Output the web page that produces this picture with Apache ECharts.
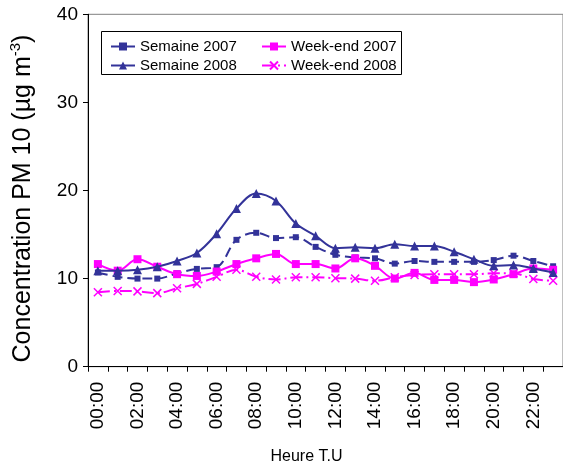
<!DOCTYPE html>
<html>
<head>
<meta charset="utf-8">
<script src="https://cdn.jsdelivr.net/npm/echarts@6/dist/echarts.min.js"></script>
<style>
  html, body { margin: 0; padding: 0; background: #fff; }
  #chart { width: 563px; height: 472px; }
</style>
</head>
<body>
<div id="chart"></div>
<script>
// Hourly PM10 concentration profiles (UTC), weekdays vs weekends
const hours = ['00:00','01:00','02:00','03:00','04:00','05:00','06:00','07:00','08:00','09:00','10:00','11:00',
               '12:00','13:00','14:00','15:00','16:00','17:00','18:00','19:00','20:00','21:00','22:00','23:00'];

const semaine2007 = [10.7, 10.2, 10.0, 10.0, 10.6, 11.1, 11.3, 14.4, 15.2, 14.6, 14.7, 13.6,
                     12.7, 12.4, 12.3, 11.7, 12.0, 11.9, 11.9, 11.9, 12.1, 12.6, 12.0, 11.4];
const semaine2008 = [10.9, 10.9, 11.0, 11.35, 12.0, 12.9, 15.1, 17.95, 19.65, 18.8, 16.25, 14.85,
                     13.45, 13.55, 13.45, 13.9, 13.7, 13.7, 13.05, 12.2, 11.45, 11.55, 11.15, 10.7];
const weekend2007 = [11.65, 10.9, 12.2, 11.35, 10.5, 10.3, 10.8, 11.65, 12.3, 12.8, 11.65, 11.65,
                     11.15, 12.3, 11.45, 10.0, 10.65, 9.85, 9.85, 9.6, 9.9, 10.5, 11.15, 11.0];
const weekend2008 = [8.45, 8.6, 8.55, 8.35, 8.9, 9.4, 10.2, 11.0, 10.2, 9.9, 10.15, 10.15,
                     10.05, 10.0, 9.75, 10.15, 10.4, 10.5, 10.5, 10.5, 10.6, 10.6, 9.95, 9.75];

const yTicks = { min: 0, max: 40, interval: 10 };

const NAVY = '#333399';
const MAGENTA = '#FF00FF';
const FONT = 'Liberation Sans, Arial, sans-serif';
const crossSymbol = 'path://M0,0L10,10M10,0L0,10';

const chart = echarts.init(document.getElementById('chart'), null, { renderer: 'canvas' });

const legendText = { fontFamily: FONT, fontSize: 15, color: '#000' };

chart.setOption({
  animation: false,
  backgroundColor: '#fff',
  grid: {
    left: 86.7, top: 14.3, width: 482.6, height: 352.4,
    show: true, borderColor: '#808080', borderWidth: 1, backgroundColor: 'transparent'
  },
  graphic: [{
    type: 'rect',
    shape: { x: 101.5, y: 31.5, width: 300, height: 43 },
    style: { fill: '#fff', stroke: '#000', lineWidth: 1 },
    z: 0
  }],
  legend: [{
    orient: 'vertical',
    left: 105, top: 34,
    itemWidth: 24, itemHeight: 10, itemGap: 4,
    textStyle: legendText,
    data: ['Semaine 2007', 'Semaine 2008'],
    z: 5
  }, {
    orient: 'vertical',
    left: 256, top: 34,
    itemWidth: 24, itemHeight: 10, itemGap: 4,
    textStyle: legendText,
    data: ['Week-end 2007', 'Week-end 2008'],
    z: 5
  }],
  xAxis: {
    type: 'category',
    data: hours,
    boundaryGap: true,
    name: 'Heure T.U',
    nameLocation: 'middle',
    nameGap: 82,
    nameTextStyle: { fontFamily: FONT, fontSize: 16, color: '#000', padding: [0, 38, 0, 0] },
    axisLine: { lineStyle: { color: '#000', width: 1 } },
    axisTick: { show: true, length: 5, interval: 0, lineStyle: { color: '#000' } },
    axisLabel: {
      interval: 1, rotate: 90, margin: 15,
      fontFamily: FONT, fontSize: 19, color: '#000'
    },
    splitLine: { show: false }
  },
  yAxis: {
    type: 'value',
    min: yTicks.min, max: yTicks.max, interval: yTicks.interval,
    name: '{t|Concentration PM 10 (µg m}{s|-3}{t|)}',
    nameLocation: 'middle',
    nameGap: 49,
    nameRotate: 90,
    nameTextStyle: {
      fontFamily: FONT, color: '#000',
      padding: [0, 16, 0, 0],
      rich: {
        t: { fontFamily: FONT, fontSize: 25, color: '#000' },
        s: { fontFamily: FONT, fontSize: 15, color: '#000', padding: [0, 0, 16, 0] }
      }
    },
    axisLine: { show: true, lineStyle: { color: '#000', width: 1 } },
    axisTick: { show: true, length: 5, lineStyle: { color: '#000' } },
    axisLabel: { margin: 10, fontFamily: FONT, fontSize: 19, color: '#000' },
    splitLine: { show: false }
  },
  series: [{
    name: 'Semaine 2007',
    type: 'line',
    data: semaine2007,
    smooth: 0.35,
    symbol: 'rect',
    symbolSize: 6,
    itemStyle: { color: NAVY },
    lineStyle: { color: NAVY, width: 2, type: [10, 5] },
    z: 3
  }, {
    name: 'Semaine 2008',
    type: 'line',
    data: semaine2008,
    smooth: 0.35,
    symbol: 'triangle',
    symbolSize: 9,
    itemStyle: { color: NAVY },
    lineStyle: { color: NAVY, width: 2 },
    z: 4
  }, {
    name: 'Week-end 2007',
    type: 'line',
    data: weekend2007,
    smooth: 0.35,
    symbol: 'rect',
    symbolSize: 8,
    itemStyle: { color: MAGENTA },
    lineStyle: { color: MAGENTA, width: 2 },
    z: 3
  }, {
    name: 'Week-end 2008',
    type: 'line',
    data: weekend2008,
    smooth: 0.35,
    symbol: crossSymbol,
    symbolSize: 8,
    itemStyle: { color: 'transparent', borderColor: MAGENTA, borderWidth: 1.5 },
    lineStyle: { color: MAGENTA, width: 2, type: [12, 4, 2, 4] },
    z: 2
  }]
});
</script>
</body>
</html>
